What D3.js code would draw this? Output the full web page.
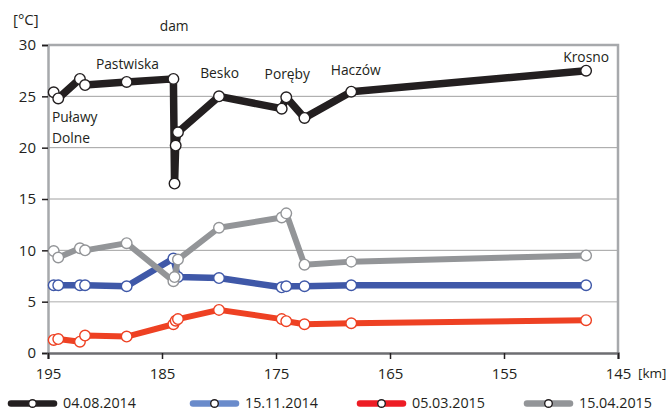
<!DOCTYPE html>
<html>
<head>
<meta charset="utf-8">
<script src="https://cdn.jsdelivr.net/npm/d3@7"></script>
<style>
  html, body { margin: 0; padding: 0; background: #fff; }
  svg { display: block; font-family: "Open Sans", "Noto Sans", sans-serif; }
</style>
</head>
<body>
<svg id="chart" width="668" height="411"></svg>
<script>
// River kilometre of each measuring point (upstream → downstream)
const km = [194.5, 194.1, 192.2, 191.75, 188.1, 184.0, 183.9, 183.8, 183.6, 180.0, 174.5, 174.1, 172.5, 168.4, 147.8];

// Water temperature [°C] per survey date (null = no measurement)
const t20140804 = [25.4, 24.8, 26.7, 26.1, 26.4, 26.7, 16.5, 20.2, 21.5, 25.0, 23.8, 24.9, 22.9, 25.45, 27.5];
const t20141115 = [6.6, 6.6, 6.6, 6.6, 6.5, 9.2, null, null, 7.4, 7.3, 6.4, 6.5, 6.5, 6.6, 6.6];
const t20150305 = [1.27, 1.36, 1.1, 1.7, 1.6, 2.8, null, 3.15, 3.3, 4.2, 3.3, 3.1, 2.8, 2.9, 3.2];
const t20150415 = [9.93, 9.3, 10.2, 10.0, 10.7, 7.0, 7.4, null, 9.1, 12.2, 13.2, 13.6, 8.6, 8.9, 9.5];

const seriesNames = ["04.08.2014", "15.11.2014", "05.03.2015", "15.04.2015"];
const xTicks = [195, 185, 175, 165, 155, 145];
const yTicks = [0, 5, 10, 15, 20, 25, 30];

// Place labels along the river: text, km of the label start, °C of its baseline
const placeNames = ["Puławy", "Dolne", "Pastwiska", "dam", "Besko", "Poręby", "Haczów", "Krosno"];
const placeKm = [194.65, 194.65, 190.8, 185.2, 181.65, 176.0, 170.2, 149.8];
const placeT = [22.5, 20.5, 27.7, 31.4, 26.8, 26.65, 27.1, 28.3];

const seriesValues = [t20140804, t20141115, t20150305, t20150415];
const lineColors = ["#231f20", "#3f58a8", "#ee4123", "#939598"];
const legendColors = ["#231f20", "#6a8bcb", "#ed1c24", "#939598"];
const lineWidths = [7.5, 6.5, 6, 6];

const svg = d3.select("#chart");
const m = { left: 48, right: 618, top: 45, bottom: 353 };

const x = d3.scaleLinear().domain([195, 145]).range([m.left, m.right]);
const y = d3.scaleLinear().domain([0, 30]).range([m.bottom, m.top]);

// Horizontal gridlines
svg.append("g").selectAll("line")
  .data(yTicks.filter(v => v > 0 && v < 30))
  .join("line")
  .attr("x1", m.left).attr("x2", m.right)
  .attr("y1", d => y(d)).attr("y2", d => y(d))
  .attr("stroke", d => d === 5 ? "#c8c8c8" : "#a0a0a0")
  .attr("stroke-width", d => d === 5 ? 1.5 : 1);

// Frame: top and right edges
svg.append("path")
  .attr("d", `M${m.left},${y(30)}H${m.right}V${m.bottom}`)
  .attr("fill", "none").attr("stroke", "#a7a9ac").attr("stroke-width", 2.5);

// Y axis
const yAxis = svg.append("g")
  .attr("transform", `translate(${m.left},0)`)
  .call(d3.axisLeft(y).tickValues(yTicks).tickSize(6).tickPadding(6));
yAxis.select(".domain").attr("stroke", "#a7a9ac").attr("stroke-width", 2.5);
yAxis.selectAll(".tick line").attr("stroke", "#231f20").attr("stroke-width", 1.5);
yAxis.selectAll(".tick text").attr("font-size", 15).attr("fill", "#231f20")
  .attr("font-family", "'Open Sans', sans-serif");

// X axis
const xAxis = svg.append("g")
  .attr("transform", `translate(0,${m.bottom})`)
  .call(d3.axisBottom(x).tickValues(xTicks).tickSize(6).tickPadding(9));
xAxis.select(".domain").attr("stroke", "#6d6e71").attr("stroke-width", 2.5);
xAxis.selectAll(".tick line").attr("stroke", "#231f20").attr("stroke-width", 1.5);
xAxis.selectAll(".tick text").attr("font-size", 15).attr("fill", "#231f20")
  .attr("font-family", "'Open Sans', sans-serif");

// Axis units
svg.append("text").attr("x", 13).attr("y", 25).attr("font-size", 15)
  .attr("fill", "#231f20").text("[°C]");
svg.append("text").attr("x", 638).attr("y", 378).attr("font-size", 13.5)
  .attr("fill", "#231f20").text("[km]");

// Series: draw from the lowest to the black summer line on top
const drawOrder = [2, 1, 3, 0];
const line = d3.line()
  .x(d => x(d.km)).y(d => y(d.t))
  .curve(d3.curveLinear);

drawOrder.forEach(i => {
  const valid = km.map((k, j) => ({ km: k, t: seriesValues[i][j] }))
    .filter(d => d.t !== null);
  const g = svg.append("g");
  g.append("path")
    .datum(valid)
    .attr("d", line)
    .attr("fill", "none")
    .attr("stroke", lineColors[i])
    .attr("stroke-width", lineWidths[i])
    .attr("stroke-linejoin", "round")
    .attr("stroke-linecap", "round");
  g.selectAll("circle")
    .data(valid)
    .join("circle")
    .attr("cx", d => x(d.km)).attr("cy", d => y(d.t))
    .attr("r", 5.3)
    .attr("fill", "#fff")
    .attr("stroke", i === 0 ? "#231f20" : lineColors[i])
    .attr("stroke-width", 1.4);
});

// Place labels
svg.append("g").selectAll("text")
  .data(placeNames)
  .join("text")
  .attr("x", (d, i) => x(placeKm[i]))
  .attr("y", (d, i) => y(placeT[i]))
  .attr("font-size", 13.8)
  .attr("fill", "#231f20")
  .text(d => d);

// Legend
const legendX = [8, 190, 357, 524];
const lg = svg.append("g");
seriesNames.forEach((name, i) => {
  const g = lg.append("g").attr("transform", `translate(${legendX[i]},403.5)`);
  g.append("line").attr("x1", 3).attr("x2", 46).attr("y1", 0).attr("y2", 0)
    .attr("stroke", legendColors[i]).attr("stroke-width", 6.5).attr("stroke-linecap", "round");
  g.append("circle").attr("cx", 24.5).attr("cy", 0).attr("r", 3.8)
    .attr("fill", "#fff").attr("stroke", "#231f20").attr("stroke-width", 1.4);
  g.append("text").attr("x", 55).attr("y", 4.5).attr("font-size", 14.3)
    .attr("fill", "#231f20").text(name);
});
</script>
</body>
</html>
